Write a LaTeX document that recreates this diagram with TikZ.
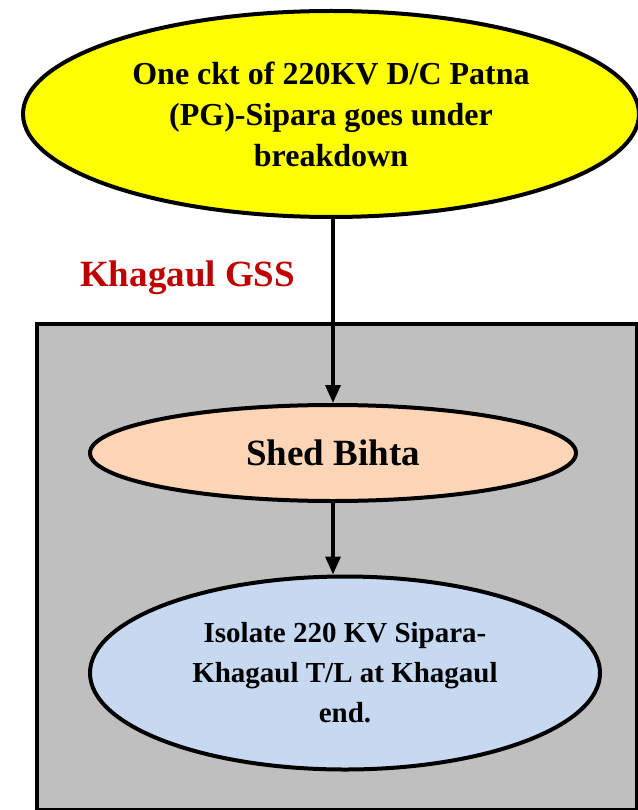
\documentclass[tikz,border=0pt]{standalone}
\usepackage{fontspec}
\setmainfont{Liberation Serif}
\usetikzlibrary{shapes.geometric,arrows.meta}
\definecolor{yel}{HTML}{FFFF00}
\definecolor{peach}{HTML}{FBD5B5}
\definecolor{lblue}{HTML}{C6D9F1}
\definecolor{grayfill}{HTML}{BFBFBF}
\definecolor{darkred}{HTML}{C00000}
\tikzset{
  oval/.style={ellipse, draw=black, line width=4pt, inner sep=0pt, align=center},
  conn/.style={line width=3.5pt, -{Triangle[length=18pt,width=15pt]}}
}
\begin{document}
\begin{tikzpicture}[x=1pt,y=-1pt]
\useasboundingbox (0,0) rectangle (637,810);
\node[draw=black, fill=grayfill, line width=4pt, minimum width=600pt, minimum height=486pt, inner sep=0pt, anchor=north west] (gss) at (35,322) {};
\node[oval, fill=yel, minimum width=616pt, minimum height=206pt, font=\bfseries\fontsize{32}{41}\selectfont] (top) at (331,114) {One ckt of 220KV D/C Patna\\(PG)-Sipara goes under\\breakdown};
\node[font=\bfseries\fontsize{37}{40}\selectfont, text=darkred, anchor=west, inner sep=0pt] (lbl) at (80,278) {Khagaul GSS};
\node[oval, fill=peach, minimum width=486pt, minimum height=96pt, font=\bfseries\fontsize{37}{40}\selectfont] (shed) at (333,453) {Shed Bihta};
\node[oval, fill=lblue, minimum width=510pt, minimum height=193pt, font=\bfseries\fontsize{29}{40}\selectfont] (iso) at (345,673) {Isolate 220 KV Sipara-\\Khagaul T/L at Khagaul\\end.};
\draw[conn] (shed.north |- top.south) -- (shed.north);
\draw[conn] (shed.south) -- (shed.south |- iso.north);
\end{tikzpicture}
\end{document}
